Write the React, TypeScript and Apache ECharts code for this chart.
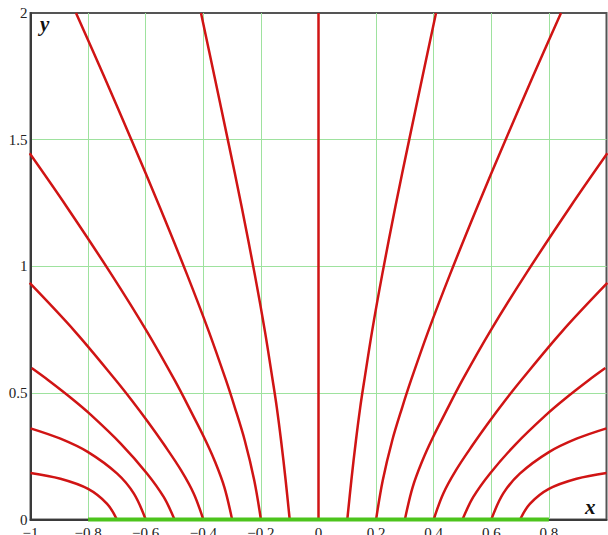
import React, { useEffect, useRef } from "react";
import * as echarts from "echarts";

// Axis ranges
const xMin = -1;
const xMax = 1;
const xStep = 0.2;
const yMin = 0;
const yMax = 2;
const yStep = 0.5;

// Field lines on the right half, each leaving the strip at y = 0 (x, y pairs)
const lineFrom01 = [
  [0.1, 0], [0.114, 0.154], [0.13, 0.312], [0.145, 0.444], [0.159, 0.549],
  [0.186, 0.743], [0.221, 0.966], [0.267, 1.236], [0.315, 1.5], [0.361, 1.748], [0.408, 2],
];
const lineFrom02 = [
  [0.2, 0], [0.223, 0.154], [0.256, 0.312], [0.291, 0.444], [0.321, 0.549],
  [0.381, 0.743], [0.456, 0.966], [0.552, 1.236], [0.646, 1.49], [0.744, 1.748], [0.842, 2],
];
const lineFrom03 = [
  [0.3, 0], [0.327, 0.128], [0.361, 0.233], [0.395, 0.319], [0.439, 0.418],
  [0.499, 0.549], [0.596, 0.743], [0.718, 0.966], [0.875, 1.236], [1.003, 1.446],
];
const lineFrom04 = [
  [0.4, 0], [0.433, 0.102], [0.477, 0.194], [0.534, 0.292], [0.592, 0.385],
  [0.648, 0.47], [0.703, 0.549], [0.846, 0.743], [1.003, 0.934],
];
const lineFrom05 = [
  [0.5, 0], [0.537, 0.088], [0.595, 0.181], [0.686, 0.299], [0.795, 0.418],
  [0.856, 0.477], [0.937, 0.549], [0.996, 0.598],
];
const lineFrom06 = [
  [0.6, 0], [0.641, 0.102], [0.699, 0.181], [0.8, 0.266], [0.896, 0.319], [1.0, 0.36],
];
const lineFrom07 = [
  [0.7, 0], [0.734, 0.062], [0.8, 0.121], [0.896, 0.161], [1.0, 0.184],
];
const rightLines = [lineFrom01, lineFrom02, lineFrom03, lineFrom04, lineFrom05, lineFrom06, lineFrom07];

// The vertical line through the middle of the strip
const centerLine = [[0, 0], [0, 2]];

// The charged strip on the x axis
const strip = [[-0.8, 0], [0.8, 0]];

const RED = "#d01414";
const GRID_GREEN = "#9ee29e";
const STRIP_GREEN = "#4cc41c";
const FRAME = "#555555";
const SERIF = "'Liberation Serif', 'Times New Roman', serif";

const fmt = (v: number) => {
  const s = String(+v.toFixed(2));
  return s.replace("-", "\u2212");
};

export default function App() {
  const ref = useRef<HTMLDivElement>(null);

  useEffect(() => {
    if (!ref.current) return;
    const chart = echarts.init(ref.current, undefined, { renderer: "svg" });

    const mirrored = rightLines.map((ln) => ln.map(([x, y]) => [-x, y]));
    const allLines = [...rightLines, ...mirrored, centerLine];

    const lineSeries = allLines.map((data) => ({
      type: "line" as const,
      data,
      showSymbol: false,
      smooth: 0.35,
      clip: true,
      silent: true,
      lineStyle: { color: RED, width: 2.5 },
      z: 3,
    }));

    const labelStyle = {
      fontFamily: SERIF,
      fontSize: 15,
      color: "#222",
      formatter: fmt,
    };

    chart.setOption({
      animation: false,
      backgroundColor: "#ffffff",
      textStyle: { fontFamily: SERIF },
      grid: {
        left: 30.5,
        right: 1.5,
        top: 13,
        bottom: 15.5,
        outerBoundsMode: "none",
        containLabel: false,
        show: true,
        borderColor: FRAME,
        borderWidth: 2,
        backgroundColor: "transparent",
      },
      xAxis: {
        type: "value",
        min: xMin,
        max: xMax,
        interval: xStep,
        axisLine: { show: true, onZero: false, lineStyle: { color: "#3a3a3a", width: 2 } },
        axisTick: { show: false },
        splitLine: {
          show: true,
          showMinLine: false,
          showMaxLine: false,
          lineStyle: { color: GRID_GREEN, width: 1 },
        },
        axisLabel: { ...labelStyle, margin: 7, lineHeight: 12, showMaxLabel: false },
      },
      yAxis: {
        type: "value",
        min: yMin,
        max: yMax,
        interval: yStep,
        axisLine: { show: true, onZero: false, lineStyle: { color: "#3a3a3a", width: 2 } },
        axisTick: { show: false },
        splitLine: {
          show: true,
          showMinLine: false,
          showMaxLine: false,
          lineStyle: { color: GRID_GREEN, width: 1 },
        },
        axisLabel: { ...labelStyle, margin: 3, lineHeight: 11, padding: [3, 0, 0, 0] },
      },
      graphic: [
        {
          type: "text",
          x: 40,
          y: 24,
          z: 10,
          style: {
            text: "y",
            font: `italic bold 21px ${SERIF}`,
            fill: "#111",
            verticalAlign: "middle",
          },
        },
        {
          type: "text",
          x: 585,
          y: 507,
          z: 10,
          style: {
            text: "x",
            font: `italic bold 21px ${SERIF}`,
            fill: "#111",
            verticalAlign: "middle",
          },
        },
      ],
      series: [
        ...lineSeries,
        {
          type: "line",
          data: strip,
          showSymbol: false,
          clip: false,
          silent: true,
          lineStyle: { color: STRIP_GREEN, width: 4 },
          z: 5,
        },
      ],
    });

    return () => chart.dispose();
  }, []);

  return (
    <div
      ref={ref}
      style={{ position: "fixed", left: 0, top: 0, width: 608, height: 535, background: "#fff" }}
    />
  );
}
